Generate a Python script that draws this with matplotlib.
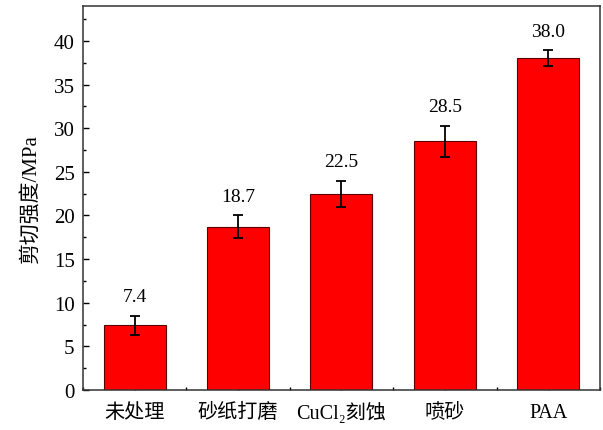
import matplotlib
matplotlib.use('Agg')
import matplotlib.pyplot as plt
from matplotlib.ticker import MultipleLocator, FixedLocator

plt.rcParams['font.family'] = ['Liberation Serif', 'Noto Sans CJK SC']

# shear strength per surface treatment
categories = ['未处理', '砂纸打磨', 'CuCl₂刻蚀', '喷砂', 'PAA']
strength = [7.4, 18.7, 22.5, 28.5, 38.0]
errors = [1.1, 1.3, 1.5, 1.8, 0.9]

fig = plt.figure(figsize=(6.03, 4.31), dpi=100)
ax = fig.add_axes([0.1376, 0.0928, 0.8574, 0.891])

x = list(range(len(categories)))
ax.bar(x, strength, width=0.6, color='#ff0000', edgecolor='#5a0000', linewidth=0.8,
       yerr=errors, error_kw=dict(ecolor='black', elinewidth=1.3, capsize=3.5, capthick=1.3),
       zorder=2)

for xi, v, e in zip(x, strength, errors):
    ax.text(xi, v + e + 1.2, f'{v:.1f}', ha='center', va='bottom', fontsize=14)

ax.set_xlim(-0.5, 4.5)
ax.set_ylim(0, 44)
ax.set_xticks(x)
ax.set_xticklabels(categories, fontsize=14.5)
ax.xaxis.set_minor_locator(FixedLocator([i + 0.5 for i in range(-1, 5)]))
ax.yaxis.set_major_locator(MultipleLocator(5))
ax.yaxis.set_minor_locator(MultipleLocator(2.5))
ax.tick_params(axis='both', which='both', direction='in', top=False, right=False)
ax.tick_params(axis='both', which='major', length=4, width=1)
ax.tick_params(axis='both', which='minor', length=2.5, width=1)
ax.tick_params(axis='y', labelsize=15, pad=6)
ax.tick_params(axis='x', pad=9)
for s in ax.spines.values():
    s.set_linewidth(1.1)
    s.set_color('#333333')

ax.set_ylabel('剪切强度/MPa', fontsize=15, labelpad=9)

fig.savefig('out.png', dpi=100)
